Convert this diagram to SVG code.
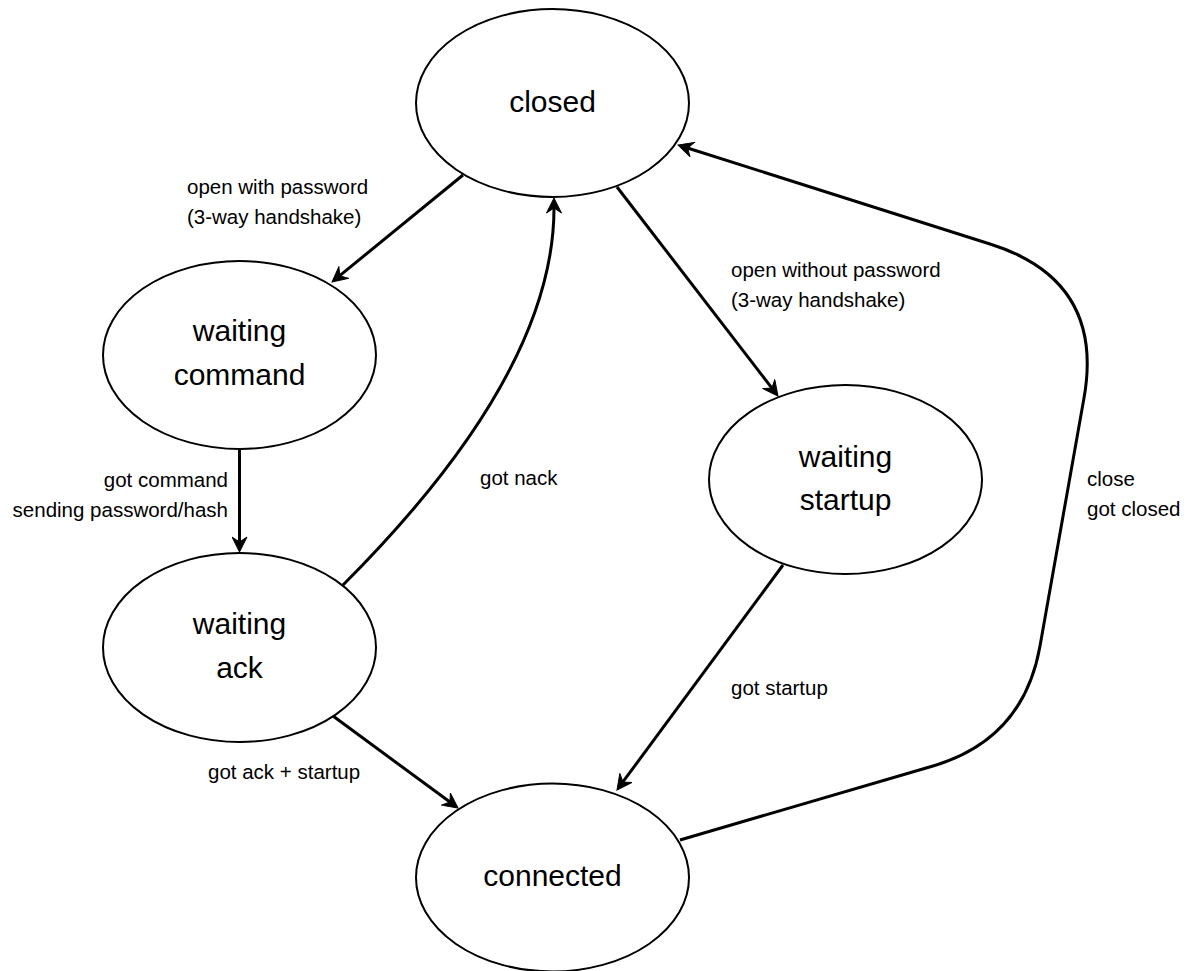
<svg xmlns="http://www.w3.org/2000/svg" width="1192" height="971" viewBox="0 0 1192 971">
<style>
.node{fill:#fff;stroke:#000;stroke-width:2}
.nt{font-family:"Liberation Sans",Arial,Helvetica,sans-serif;font-size:30px;fill:#000;text-anchor:middle}
.lbl{font-family:"Liberation Sans",Arial,Helvetica,sans-serif;font-size:20.5px;fill:#000}
.edge{fill:none;stroke:#000;stroke-width:3;marker-end:url(#arr)}
</style>
<defs>
<marker id="arr" markerUnits="userSpaceOnUse" viewBox="-16 -8 17 16" markerWidth="17" markerHeight="16" refX="-10" refY="0" orient="auto">
<path d="M0,0 L-15,-7.5 L-10,0 L-15,7.5 Z" fill="#000" stroke="#000" stroke-width="1" stroke-linejoin="miter"/>
</marker>
</defs>
<rect width="1192" height="971" fill="#fff"/>
<g id="connectors">
<path class="edge" d="M463,175 L339.75,275.67"/>
<path class="edge" d="M239.5,448 L239.5,542"/>
<path class="edge" d="M343,585 Q554,374 554,208"/>
<path class="edge" d="M617,187 L771.9,388.1"/>
<path class="edge" d="M783,565 L622.9,781.95"/>
<path class="edge" d="M333,716 L449.95,802.07"/>
<path class="edge" d="M680,840 L933,766 Q1023.5,739.5 1040,646 L1084,398 Q1105,280 990,244 L687.5,148"/>
</g>
<g id="labels">
<text class="lbl" x="187" y="194">open with password</text>
<text class="lbl" x="187" y="223.5">(3-way handshake)</text>
<text class="lbl" x="731" y="277">open without password</text>
<text class="lbl" x="731" y="307">(3-way handshake)</text>
<text class="lbl" x="228" y="487" text-anchor="end">got command</text>
<text class="lbl" x="228" y="517" text-anchor="end">sending password/hash</text>
<text class="lbl" x="480" y="485">got nack</text>
<text class="lbl" x="731" y="695">got startup</text>
<text class="lbl" x="208" y="779">got ack + startup</text>
<text class="lbl" x="1087" y="486">close</text>
<text class="lbl" x="1087" y="516">got closed</text>
</g>
<g id="closed">
<ellipse class="node" cx="552.5" cy="103" rx="136.5" ry="94"/>
<text class="nt" x="552.5" y="112">closed</text>
</g>
<g id="waiting-command">
<ellipse class="node" cx="239.5" cy="355" rx="136.5" ry="94"/>
<text class="nt" x="239.5" y="341">waiting</text>
<text class="nt" x="239.5" y="385">command</text>
</g>
<g id="waiting-ack">
<ellipse class="node" cx="239.5" cy="647.5" rx="136.5" ry="94.5"/>
<text class="nt" x="239.5" y="634">waiting</text>
<text class="nt" x="239.5" y="678">ack</text>
</g>
<g id="waiting-startup">
<ellipse class="node" cx="845.5" cy="479.5" rx="136.5" ry="94.5"/>
<text class="nt" x="845.5" y="466.5">waiting</text>
<text class="nt" x="845.5" y="510">startup</text>
</g>
<g id="connected">
<ellipse class="node" cx="552.5" cy="877.5" rx="136.5" ry="94"/>
<text class="nt" x="552.5" y="886">connected</text>
</g>
</svg>
